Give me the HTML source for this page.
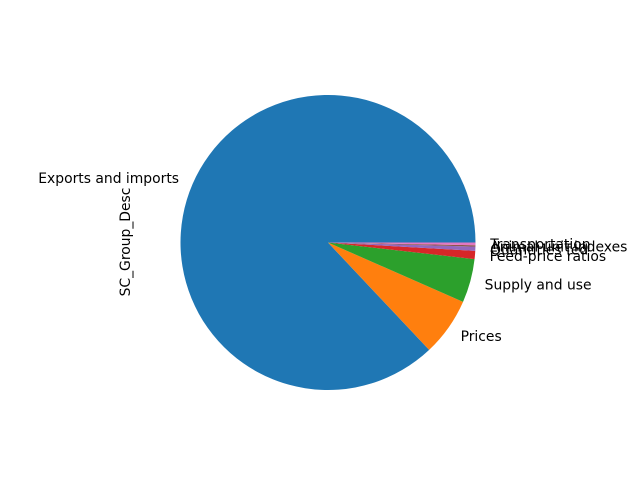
<!DOCTYPE html>
<html><head><meta charset="utf-8"><style>
body{margin:0;background:#fff}
svg{display:block;font-family:"DejaVu Sans","Liberation Sans",sans-serif}
</style></head><body>
<svg id="chart" width="640" height="480" viewBox="0 0 640 480" xmlns="http://www.w3.org/2000/svg">
<rect width="640" height="480" fill="#fff"/>
<text x="0" y="0" transform="translate(130,242) rotate(-90)" text-anchor="middle" font-size="13.9" fill="#000">SC_Group_Desc</text>
<g id="slices"></g>
<g id="labels"></g>
</svg>
<script>
const categories = ["Exports and imports","Prices","Supply and use","Feed-price ratios","Quantities fed","Animal unit indexes","Transportation"];
const values = [87.2, 6.4, 4.8, 0.9, 0.45, 0.15, 0.3];
const colors = ["#1f77b4","#ff7f0e","#2ca02c","#d62728","#9467bd","#8c564b","#e377c2"];
const cx = 328, cy = 242.5, r = 147.5;
const NS = "http://www.w3.org/2000/svg";
const total = values.reduce((a,b)=>a+b,0);
const sg = document.getElementById('slices'), lg = document.getElementById('labels');
let a0 = 0;
values.forEach((v,i)=>{
  const a1 = a0 + v/total*2*Math.PI;
  const x0 = cx + r*Math.cos(a0), y0 = cy - r*Math.sin(a0);
  const x1 = cx + r*Math.cos(a1), y1 = cy - r*Math.sin(a1);
  const large = (a1-a0) > Math.PI ? 1 : 0;
  const p = document.createElementNS(NS,'path');
  p.setAttribute('d',`M${cx},${cy} L${x0},${y0} A${r},${r} 0 ${large} 0 ${x1},${y1} Z`);
  p.setAttribute('fill',colors[i]);
  
  
  sg.appendChild(p);
  const am = (a0+a1)/2;
  const lx = cx + 1.1*r*Math.cos(am), ly = cy - 1.1*r*Math.sin(am);
  const t = document.createElementNS(NS,'text');
  t.setAttribute('x',lx); t.setAttribute('y',ly+5);
  t.setAttribute('text-anchor', Math.cos(am) >= 0 ? 'start' : 'end');
  t.setAttribute('font-size','13.9');
  t.textContent = categories[i];
  
  
  lg.appendChild(t);
  a0 = a1;
});
</script>
</body></html>
